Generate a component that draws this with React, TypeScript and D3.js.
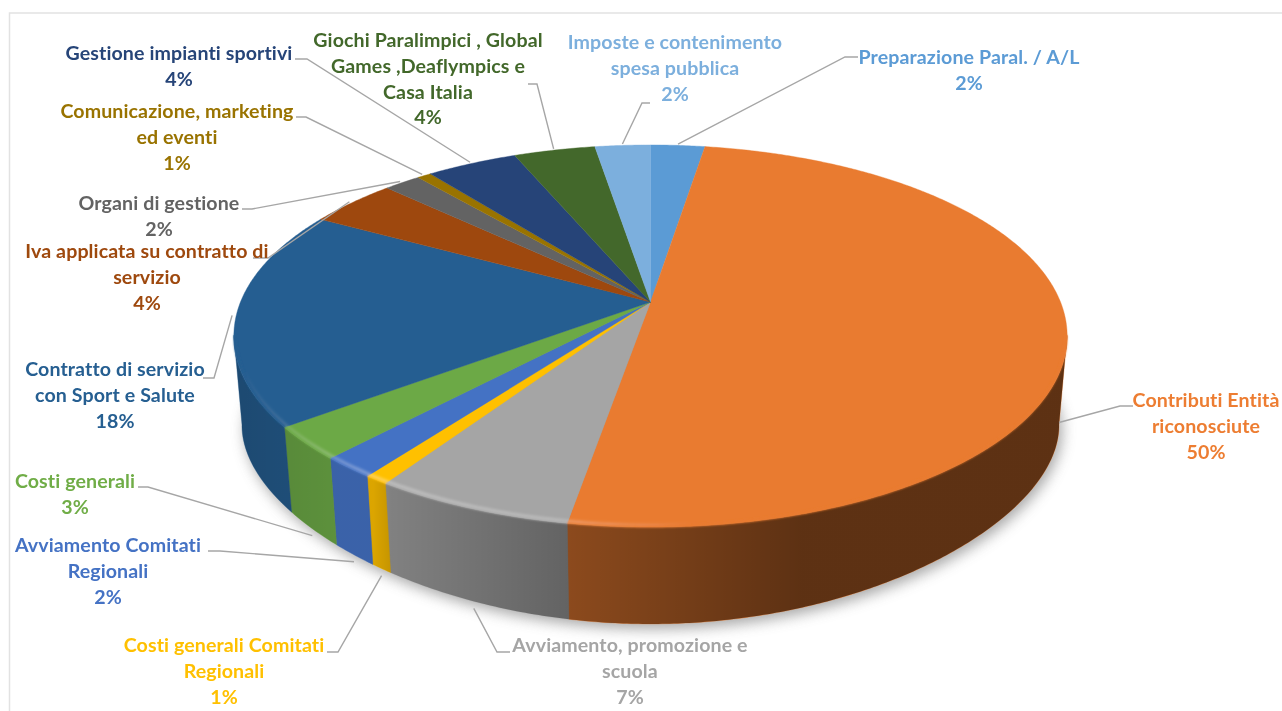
import React from 'react';
import * as d3 from 'd3';

// slices clockwise from 12 o'clock
const categories = [
  'Preparazione Paral. / A/L',
  'Contributi Entità riconosciute',
  'Avviamento, promozione e scuola',
  'Costi generali Comitati Regionali',
  'Avviamento Comitati Regionali',
  'Costi generali',
  'Contratto di servizio con Sport e Salute',
  'Iva applicata su contratto di servizio',
  'Organi di gestione',
  'Comunicazione, marketing ed eventi',
  'Gestione impianti sportivi',
  'Giochi Paralimpici , Global Games ,Deaflympics e Casa Italia',
  'Imposte e contenimento spesa pubblica',
];
const values = [2.5, 50.2, 6.6, 0.8, 1.8, 2.8, 18.4, 4.1, 1.7, 0.64, 4.2, 3.75, 2.55];
const percentLabels = ['2%', '50%', '7%', '1%', '2%', '3%', '18%', '4%', '2%', '1%', '4%', '4%', '2%'];
const colors = ['#5B9BD5', '#E97B30', '#A5A5A5', '#FFC000', '#4472C4', '#6CA946', '#255E91', '#9E480E', '#636363', '#997300', '#264478', '#43682B', '#7CAFDD'];
const labelColors = ['#5B9BD5', '#ED7D31', '#A5A5A5', '#FFC000', '#4472C4', '#70AD47', '#255E91', '#9E480E', '#636363', '#997300', '#264478', '#43682B', '#7CAFDD'];
const wrappedLabels = [
  ['Preparazione Paral. / A/L'],
  ['Contributi Entità', 'riconosciute'],
  ['Avviamento, promozione e', 'scuola'],
  ['Costi generali Comitati', 'Regionali'],
  ['Avviamento Comitati', 'Regionali'],
  ['Costi generali'],
  ['Contratto di servizio', 'con Sport e Salute'],
  ['Iva applicata su contratto di', 'servizio'],
  ['Organi di gestione'],
  ['Comunicazione, marketing', 'ed eventi'],
  ['Gestione impianti sportivi'],
  ['Giochi Paralimpici , Global', 'Games ,Deaflympics e', 'Casa Italia'],
  ['Imposte e contenimento', 'spesa pubblica'],
];

// label layout: centre x, first line y, leader start and elbow
const labelX = [969, 1206, 630, 224, 108, 75, 115, 147, 159, 177, 179, 428, 675];
const labelY = [56, 399, 644, 644, 544, 480, 368, 250, 202, 110, 52, 39, 41];
const lineGap = 25.8;
const leaderElbows: [number, number, number][] = [
  [858, 845, 57],
  [1133, 1120, 406],
  [510, 497, 652],
  [327, 338, 652],
  [208, 220, 551],
  [138, 148, 487],
  [203, 214, 378],
  [253, 268, 258],
  [242, 252, 209],
  [296, 306, 117],
  [295, 307, 59],
  [528, 537, 84],
  [650, 642, 103],
];

// projection of the tilted disc
const cx = 650.5;
const topPlane = { y: 302, rx: 410, ry: 185, k: 0.178 };
const bottomPlane = { y: 396, rx: 402, ry: 155, k: 0.32 };
const wallStart = (100 * Math.PI) / 180;
const wallEnd = (260 * Math.PI) / 180;

const project = (a: number, plane: typeof topPlane, r = 1): [number, number] => {
  const u = Math.sin(a) * r;
  const v = -Math.cos(a) * r;
  return [cx + (plane.rx * u) / (1 - 0.178 * v), plane.y + (plane.ry * v) / (1 - plane.k * v)];
};

const arcAngles = (a0: number, a1: number) => {
  const n = Math.max(2, Math.ceil((a1 - a0) / 0.008));
  return d3.range(n + 1).map((i) => a0 + ((a1 - a0) * i) / n);
};

const line = d3.line();

const App = () => {
  const arcs = d3.pie<number>().sort(null)(values);

  const topPath = (d: d3.PieArcDatum<number>) =>
    line([project(0, topPlane, 0), ...arcAngles(d.startAngle, d.endAngle).map((a) => project(a, topPlane))]) + 'Z';

  const wallPath = (a0: number, a1: number) => {
    const as = arcAngles(a0, a1);
    return line([...as.map((a) => project(a, topPlane)), ...as.reverse().map((a) => project(a, bottomPlane))]) + 'Z';
  };

  const clipWall = (d: d3.PieArcDatum<number>) => {
    const a0 = Math.max(d.startAngle, wallStart);
    const a1 = Math.min(d.endAngle, wallEnd);
    return a1 > a0 ? wallPath(a0, a1) : null;
  };

  const rimPath = (a0: number, a1: number, r = 1) => line(arcAngles(a0, a1).map((a) => project(a, topPlane, r)));

  const bottomOutline = line(arcAngles(0, Math.PI * 2).map((a) => project(a, bottomPlane))) + 'Z';

  const leaderTip = (d: d3.PieArcDatum<number>): [number, number] => {
    const mid = (d.startAngle + d.endAngle) / 2;
    if (mid > wallStart - 0.1 && mid < wallEnd - 0.1) {
      const p = project(mid, bottomPlane);
      return [p[0], p[1] + (mid > Math.PI * 0.8 ? 7 : 0)];
    }
    return project(mid, topPlane, 1.01);
  };

  return (
    <svg width={1282} height={711} style={{ position: 'fixed', left: 0, top: 0, background: '#fff' }}>
      <defs>
        <filter id="shadow" filterUnits="userSpaceOnUse" x={0} y={0} width={1282} height={711}>
          <feGaussianBlur stdDeviation={7} />
        </filter>
        <filter id="soft" filterUnits="userSpaceOnUse" x={0} y={0} width={1282} height={711}>
          <feGaussianBlur stdDeviation={1.2} />
        </filter>
        <filter id="textSoft" filterUnits="userSpaceOnUse" x={0} y={0} width={1282} height={711}>
          <feGaussianBlur stdDeviation={0.4} />
        </filter>
        <linearGradient id="wallShade" gradientUnits="userSpaceOnUse" x1={236} x2={1067} y1={0} y2={0}>
          <stop offset={0} stopColor="#000" stopOpacity={0.22} />
          <stop offset={0.125} stopColor="#000" stopOpacity={0.14} />
          <stop offset={0.165} stopColor="#000" stopOpacity={0.14} />
          <stop offset={0.185} stopColor="#000" stopOpacity={0.22} />
          <stop offset={0.4} stopColor="#000" stopOpacity={0.4} />
          <stop offset={0.68} stopColor="#000" stopOpacity={0.6} />
          <stop offset={1} stopColor="#000" stopOpacity={0.6} />
        </linearGradient>
        <linearGradient id="rimLight" gradientUnits="userSpaceOnUse" x1={236} x2={1067} y1={0} y2={0}>
          <stop offset={0.01} stopColor="#fff" stopOpacity={0} />
          <stop offset={0.07} stopColor="#fff" stopOpacity={0.08} />
          <stop offset={0.15} stopColor="#fff" stopOpacity={0.22} />
          <stop offset={0.38} stopColor="#fff" stopOpacity={0.18} />
          <stop offset={0.55} stopColor="#fff" stopOpacity={0} />
        </linearGradient>
      </defs>

      {/* chart frame */}
      <rect x={9.5} y={13} width={1300} height={720} fill="none" stroke="#e2e2e2" strokeWidth={1.5} />

      <path d={bottomOutline} transform="translate(3,5)" fill="#8a8a8a" opacity={0.75} filter="url(#shadow)" />

      {arcs.map((d, i) => {
        const p = clipWall(d);
        return p ? <path key={i} d={p} fill={colors[i]} stroke={colors[i]} strokeWidth={0.4} /> : null;
      })}
      <path d={wallPath(wallStart, wallEnd)} fill="url(#wallShade)" />

      {arcs.map((d, i) => (
        <path key={i} d={topPath(d)} fill={colors[i]} stroke={colors[i]} strokeWidth={0.4} />
      ))}

      <g filter="url(#soft)">
        {arcs.map((d, i) => {
          const a0 = Math.max(d.startAngle, wallStart);
          const a1 = Math.min(d.endAngle, wallEnd);
          return a1 > a0 ? <path key={i} d={rimPath(a0, a1, 0.997)} fill="none" stroke={colors[i]} strokeWidth={2.5} /> : null;
        })}
        <path d={rimPath(wallStart, wallEnd, 0.992)} fill="none" stroke="url(#rimLight)" strokeWidth={4} />
      </g>

      {/* leader lines */}
      <g fill="none" stroke="#a6a6a6" strokeWidth={1.4}>
        {arcs.map((d, i) => {
          const [x0, x1, y] = leaderElbows[i];
          return <path key={i} d={line([[x0, y], [x1, y], leaderTip(d)]) as string} />;
        })}
      </g>

      <g
        fontFamily="Lato, 'Open Sans', sans-serif"
        fontWeight={700}
        fontSize={19.6}
        letterSpacing={0.1}
        textAnchor="middle"
        dominantBaseline="central"
        filter="url(#textSoft)"
        style={{ fontVariantLigatures: 'none' }}
      >
        {categories.map((name, i) => (
          <text key={name} fill={labelColors[i]}>
            {[...wrappedLabels[i], percentLabels[i]].map((t, j) => (
              <tspan key={j} x={labelX[i]} y={labelY[i] + j * lineGap}>
                {t}
              </tspan>
            ))}
          </text>
        ))}
      </g>
    </svg>
  );
};

export default App;
